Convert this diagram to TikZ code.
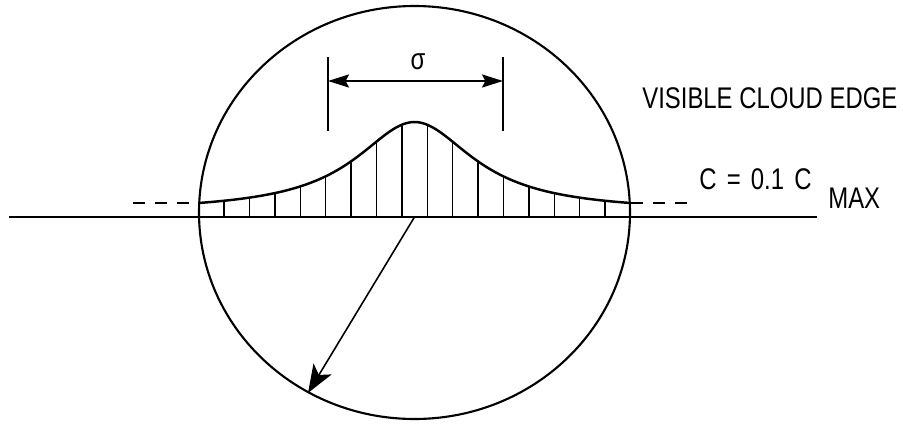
\documentclass[tikz,border=0pt]{standalone}
\usepackage{fontspec}
\setmainfont[FakeStretch=0.8]{Liberation Sans}
\usetikzlibrary{arrows.meta}

\tikzset{
	rim/.style={line width=1.2pt},
	profile/.style={line width=1.4pt},
	hatch/.style={line width=0.8pt},
	base/.style={line width=0.9pt},
	tail/.style={line width=1.4pt, dash pattern=on 7pt off 5.5pt},
	dimline/.style={line width=0.9pt},
	dimarrow/.style={line width=0.9pt, {Stealth[length=12pt,width=7.5pt,inset=2pt]}-{Stealth[length=12pt,width=7.5pt,inset=2pt]}},
	radarrow/.style={line width=0.9pt, -{Stealth[length=16pt,width=12pt,inset=4pt]}},
	lbl/.style={inner sep=0pt, font=\fontsize{17}{19}\selectfont},
	declare function={prof(\t)=203-81*(1/(1+(\t/72)^2)-0.1)/0.9;}
}

\begin{document}
	\begin{tikzpicture}[x=0.02cm, y=-0.02cm]
		\useasboundingbox (0,0) rectangle (903,423);
		
		% Cloud outline
		\coordinate (ctr) at (414.5,217);
		\draw[rim] (414.5,212.5) ellipse [x radius=215.5, y radius=206.5];
		
		% Base line and level
		\coordinate (bl) at (9,217);
		\coordinate (br) at (817,217);
		\draw[base] (bl) -- (br);
		\draw[tail] (133,203) -- (198,203);
		\draw[tail] (631,203) -- (690,203);
		
		% Concentration profile
		\draw[profile] plot[domain=-215:215, samples=90, smooth] ({414.5+\x}, {prof(\x)});
		\foreach \k in {-15,-13,...,15} {
			\pgfmathsetmacro{\hx}{12.7*\k}
			\draw[hatch] (414.5+\hx,217) -- (414.5+\hx,{prof(\hx)});
		}
		
		% Sigma width
		\coordinate (sl) at (328,81);
		\coordinate (sr) at (503,81);
		\draw[dimline] (328,57) -- (328,131);
		\draw[dimline] (503,57) -- (503,131);
		\draw[dimarrow] (sl) -- (sr);
		\node[lbl, anchor=base] (sig) at (418,69) {σ};
		
		% Radius
		\coordinate (edgept) at (308,393);
		\draw[radarrow] (ctr) -- (edgept);
		
		% Labels
		\node[lbl, anchor=base west] (vis) at (642,108) {VISIBLE CLOUD EDGE};
		\node[lbl, anchor=base west] (lvl) at (699,189) {C\hspace{5.8pt}=\hspace{5.8pt}0.1\hspace{5.8pt}C};
		\node[lbl, anchor=base west] (sub) at (828,208) {MAX};
	\end{tikzpicture}
\end{document}
